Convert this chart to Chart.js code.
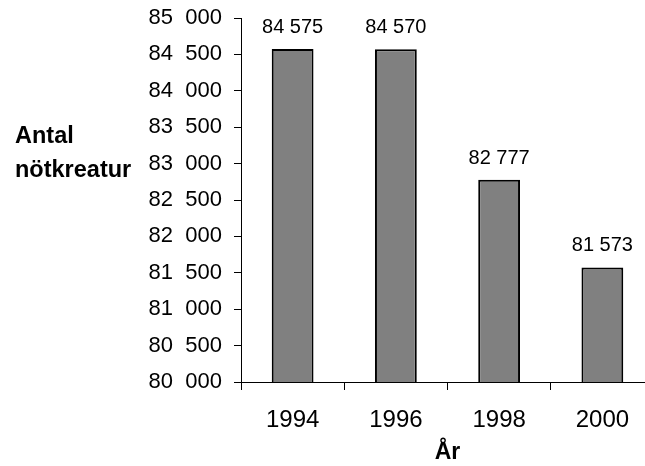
<!DOCTYPE html>
<html><head><meta charset="utf-8">
<script src="https://cdn.jsdelivr.net/npm/chart.js@4/dist/chart.umd.min.js"></script>
<style>
html,body{margin:0;padding:0;background:#fff;width:645px;height:466px;overflow:hidden}
#wrap{width:660px;height:466px}
</style>
</head><body>
<div id="wrap"><canvas id="c" width="660" height="466"></canvas></div>
<script>
const years=["1994","1996","1998","2000"];
const antal=[84575,84570,82777,81573];
const yMin=80000, yMax=85000, yStep=500;
const yTitleLines=["Antal","nötkreatur"];
const xTitle="År";

const FONT="'Liberation Sans', Arial, sans-serif";
const fmt=(v,sep)=>{const s=String(v); return s.slice(0,-3)+sep+s.slice(-3);};

// value labels over the bars
const barLabels={id:"barLabels",afterDatasetsDraw(ch){
  const c=ch.ctx, meta=ch.getDatasetMeta(0);
  c.save(); c.font="20px "+FONT; c.fillStyle="#000"; c.textAlign="center"; c.textBaseline="alphabetic";
  meta.data.forEach((b,i)=>c.fillText(fmt(antal[i]," "),b.x,b.y-16));
  c.restore();
}};
// horizontal y title at the left
const yTitle={id:"yTitle",afterDraw(ch){
  const c=ch.ctx, mid=(ch.chartArea.top+ch.chartArea.bottom)/2;
  c.save(); c.font="bold 23.5px "+FONT; c.fillStyle="#000"; c.textAlign="left"; c.textBaseline="alphabetic";
  c.fillText(yTitleLines[0],15,mid-57); c.fillText(yTitleLines[1],15,mid-23);
  c.restore();
}};

new Chart(document.getElementById("c"),{
  type:"bar",
  data:{labels:years,datasets:[{data:antal,backgroundColor:"#808080",borderColor:"#000",borderWidth:2,borderSkipped:false,barPercentage:0.405,categoryPercentage:1}]},
  options:{
    responsive:false,animation:false,
    layout:{padding:{top:18,right:6,left:0,bottom:0}},
    plugins:{legend:{display:false},tooltip:{enabled:false}},
    scales:{
      y:{min:yMin,max:yMax,
        afterFit:(s)=>{s.width=241; s.paddingTop=0; s.paddingBottom=0;},
        grid:{drawOnChartArea:false,tickLength:7,color:"#000"},
        border:{color:"#000",width:1},
        ticks:{stepSize:yStep,color:"#000",padding:12,font:{family:FONT,size:22},callback:(v)=>fmt(v,"  ")}},
      x:{
        afterFit:(s)=>{s.height=84;},
        grid:{drawOnChartArea:false,tickLength:8,color:"#000",offset:true},
        border:{color:"#000",width:1},
        ticks:{color:"#000",padding:16,font:{family:FONT,size:24}},
        title:{display:true,text:xTitle,color:"#000",font:{family:FONT,size:23,weight:"bold"},padding:{top:0,bottom:0}}}
    }
  },
  plugins:[barLabels,yTitle]
});
</script>
</body></html>
